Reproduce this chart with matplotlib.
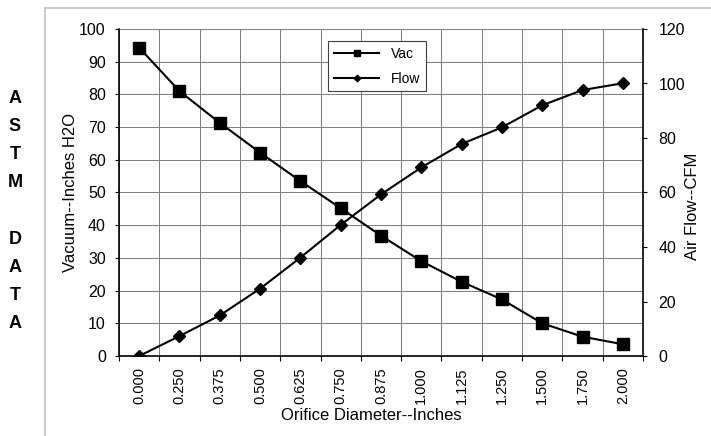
import matplotlib
matplotlib.use("Agg")
import matplotlib.pyplot as plt
from matplotlib.lines import Line2D

plt.rcParams['font.family'] = ['Liberation Sans', 'DejaVu Sans']

diameters = ['0.000', '0.250', '0.375', '0.500', '0.625', '0.750', '0.875',
             '1.000', '1.125', '1.250', '1.500', '1.750', '2.000']
vac = [94.3, 81.0, 71.3, 62.2, 53.5, 45.2, 36.8, 29.0, 22.7, 17.3, 10.0, 5.9, 3.6]
flow = [0.0, 7.3, 14.9, 24.7, 36.1, 48.1, 59.3, 69.2, 77.8, 83.9, 92.0, 97.6, 100.1]

fig = plt.figure(figsize=(7.11, 4.36), dpi=100)
ax = fig.add_axes([119/711, 1-356/436, 524/711, 327/436])
ax2 = ax.twinx()

x = list(range(len(diameters)))
l1, = ax.plot(x, vac, color='black', lw=1.5, marker='s', markersize=8.6, label='Vac')
l2, = ax2.plot(x, flow, color='black', lw=1.5, marker='D', markersize=6, label='Flow')

# x axis: ticks/grid on category boundaries, labels in the middle
ax.set_xlim(-0.5, len(diameters) - 0.5)
ax.set_xticks([i - 0.5 for i in range(len(diameters) + 1)])
ax.set_xticklabels([])
ax.set_xticks(x, minor=True)
ax.set_xticklabels(diameters, minor=True, rotation=90, fontsize=10.5)
ax.tick_params(axis='x', which='major', direction='out', length=3.5, width=0.8)
ax.tick_params(axis='x', which='minor', length=0, pad=8)

ax.set_ylim(0, 100)
ax.set_yticks(range(0, 101, 10))
ax.tick_params(axis='y', direction='out', length=3, width=0.8, pad=6.5, labelsize=11.5)
ax2.set_ylim(0, 120)
ax2.set_yticks(range(0, 121, 20))
ax2.tick_params(axis='y', direction='out', length=3, width=0.8, pad=8, labelsize=11.5)

ax.grid(True, which='major', color='#808080', lw=0.75)
ax.set_axisbelow(True)

for a in (ax, ax2):
    a.spines['top'].set_visible(False)
    a.spines['left'].set_linewidth(1.2)
    a.spines['right'].set_linewidth(1.2)
    a.spines['bottom'].set_linewidth(1.2)
ax.spines['right'].set_visible(False)
ax2.spines['left'].set_visible(False)
ax2.spines['bottom'].set_visible(False)

ax.set_xlabel('Orifice Diameter--Inches', fontsize=12)
ax.xaxis.set_label_coords(0.481, -0.16)
ax.set_ylabel('Vacuum--Inches H2O', fontsize=12)
ax.yaxis.set_label_coords(-0.078, 0.5)
ax2.set_ylabel('Air Flow--CFM', fontsize=12)
ax2.yaxis.set_label_coords(1.08, 0.459)

leg = ax2.legend(handles=[l1, l2], loc='upper left', bbox_to_anchor=(0.399, 0.963),
                 borderaxespad=0, fontsize=10, markerscale=0.55, handlelength=3.3,
                 fancybox=False, framealpha=1, edgecolor='#404040', labelspacing=0.8)
leg.get_frame().set_linewidth(0.8)

fig.text(15/711, 1-211/436, 'A\nS\nT\nM\n\nD\nA\nT\nA', ha='center', va='center',
         fontsize=13, fontweight='bold', linespacing=1.85)

# light grey chart-area frame
fig.add_artist(Line2D([45/711, 1], [1-8/436, 1-8/436], color='#c0c0c0', lw=1.2))
fig.add_artist(Line2D([45/711, 45/711], [0, 1-8/436], color='#c0c0c0', lw=1.2))

fig.savefig('out.png', dpi=100)
